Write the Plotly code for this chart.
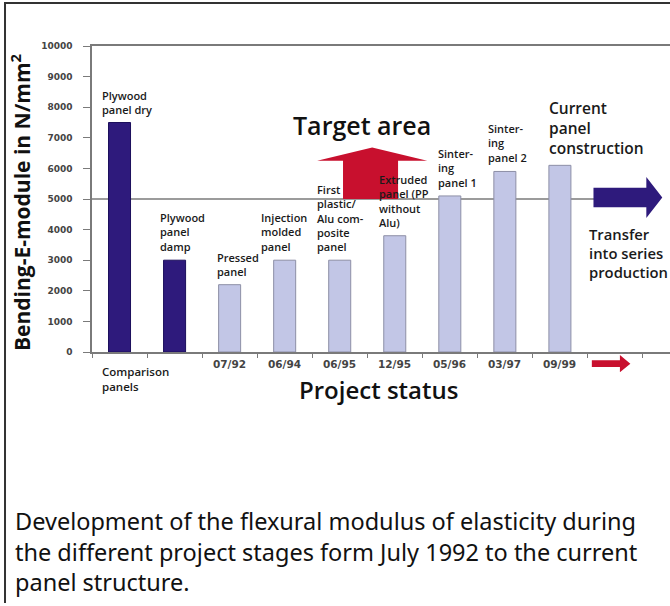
import plotly.graph_objects as go

# ---------------- data ----------------
categories = ["Plywood panel dry", "Plywood panel damp", "Pressed panel",
              "Injection molded panel", "First plastic/Alu composite panel",
              "Extruded panel (PP without Alu)", "Sintering panel 1",
              "Sintering panel 2", "Current panel construction"]
bar_labels = ["Plywood<br>panel dry", "Plywood<br>panel<br>damp", "Pressed<br>panel",
              "Injection<br>molded<br>panel", "First<br>plastic/<br>Alu com-<br>posite<br>panel",
              "Extruded<br>panel (PP<br>without<br>Alu)", "Sinter-<br>ing<br>panel 1",
              "Sinter-<br>ing<br>panel 2", "Current<br>panel<br>construction"]
values = [7500, 3000, 2200, 3000, 3000, 3800, 5100, 5900, 6100]
is_comparison = [True, True, False, False, False, False, False, False, False]
date_labels = ["", "", "07/92", "06/94", "06/95", "12/95", "05/96", "03/97", "09/99"]
y_ticks = [0, 1000, 2000, 3000, 4000, 5000, 6000, 7000, 8000, 9000, 10000]
target_value = 5000

# ---------------- style ----------------
DARK = "#2e1a7c"
LIGHT = "#c2c6e6"
RED = "#c8102e"
AXIS = "#7a7a7a"
FONT = "Open Sans"
label_dx = [-0.35, -0.30, -0.26, -0.46, -0.45, -0.32, -0.26, -0.34, -0.23]
label_size = [11, 11, 11, 11, 11, 11, 11, 11, 15.5]

x_idx = list(range(len(values)))
XR = [-0.5, 10.0]

fig = go.Figure()
fig.add_trace(go.Bar(
    x=x_idx, y=values, width=0.4,
    marker=dict(color=[DARK if c else LIGHT for c in is_comparison],
                line=dict(color=["#1c0f5c" if c else "#8d8fa6" for c in is_comparison], width=1)),
    hovertext=categories, showlegend=False,
))

shapes = []
# 5000 line
shapes.append(dict(type="line", xref="x", yref="y", x0=-0.5, x1=9.6, y0=target_value, y1=target_value,
                   line=dict(color=AXIS, width=1.5), layer="below"))
# red target arrow (up)
shapes.append(dict(type="path", xref="x", yref="y", layer="above",
                   path=f"M 4.06 {target_value} L 4.06 6250 L 3.59 6250 L 4.59 6680 L 5.59 6250 "
                        f"L 5.06 6250 L 5.06 {target_value} Z",
                   fillcolor=RED, line=dict(width=0)))
# blue transfer arrow (right)
shapes.append(dict(type="path", xref="x", yref="y", layer="above",
                   path="M 8.61 4730 L 9.57 4730 L 9.57 4380 L 9.86 5050 L 9.57 5720 L 9.57 5370 L 8.61 5370 Z",
                   fillcolor=DARK, line=dict(width=0)))

def px_x(xd):
    return (xd - XR[0]) / (XR[1] - XR[0])

# small red arrow under the axis
ya, yb, yh0, yh1, ym = -0.027, -0.049, -0.010, -0.066, -0.038
shapes.append(dict(type="path", xref="paper", yref="paper",
                   path=f"M {px_x(8.58)} {ya} L {px_x(9.09)} {ya} L {px_x(9.09)} {yh0} L {px_x(9.28)} {ym} "
                        f"L {px_x(9.09)} {yh1} L {px_x(9.09)} {yb} L {px_x(8.58)} {yb} Z",
                   fillcolor=RED, line=dict(width=0)))
# outer frame (left and top)
shapes.append(dict(type="path", xref="paper", yref="paper",
                   path="M -0.1505 -0.82 L -0.1505 1.1405 L 1.05 1.1405",
                   line=dict(color="#333333", width=2)))

ann = []
for i, (lab, v) in enumerate(zip(bar_labels, values)):
    ann.append(dict(x=i + label_dx[i], y=v, xref="x", yref="y", text=lab, showarrow=False,
                    xanchor="left", yanchor="bottom", align="left", yshift=4,
                    font=dict(family=FONT, size=label_size[i], color="#1a1a1a", weight=600)))
for i, d in enumerate(date_labels):
    if d:
        ann.append(dict(x=i, y=-0.040, xref="x", yref="paper", text=d, showarrow=False,
                        xanchor="center", yanchor="middle",
                        font=dict(family="DejaVu Sans", size=10.5, color="#444444", weight="bold")))
ann.append(dict(x=0 - 0.35, y=-0.033, xref="x", yref="paper", text="Comparison<br>panels",
                showarrow=False, xanchor="left", yanchor="top", align="left",
                font=dict(family=FONT, size=11.5, color="#1a1a1a", weight=600)))
ann.append(dict(x=4.40, y=7420, xref="x", yref="y", text="Target area", showarrow=False,
                xanchor="center", yanchor="middle",
                font=dict(family=FONT, size=25, color="#111111", weight=600)))
ann.append(dict(x=8.49, y=4250, xref="x", yref="y", text="Transfer<br>into series<br>production",
                showarrow=False, xanchor="left", yanchor="top", align="left",
                font=dict(family=FONT, size=14.8, color="#1a1a1a", weight=600)))
ann.append(dict(x=0.4965, y=-0.122, xref="paper", yref="paper", text="Project status",
                showarrow=False, xanchor="center", yanchor="middle",
                font=dict(family=FONT, size=24, color="#111111", weight=600)))
ann.append(dict(x=-0.1246, y=0.49, xref="paper", yref="paper", text="Bending-E-module in N/mm<sup>2</sup>",
                showarrow=False, textangle=-90, xanchor="center", yanchor="middle",
                font=dict(family=FONT, size=21, color="#111111", weight=700)))
ann.append(dict(x=-0.136, y=-0.494, xref="paper", yref="paper",
                text="Development of the flexural modulus of elasticity during<br>"
                     "the different project stages form July 1992 to the current<br>"
                     "panel structure.",
                showarrow=False, xanchor="left", yanchor="top", align="left",
                font=dict(family="Noto Sans", size=23.5, color="#111111")))

fig.update_layout(
    width=670, height=606,
    margin=dict(l=92, r=0, t=46, b=254, pad=0),
    paper_bgcolor="white", plot_bgcolor="white",
    shapes=shapes, annotations=ann, showlegend=False,
    xaxis=dict(range=XR, tickvals=[k - 0.5 for k in range(11)], showticklabels=False,
               ticks="outside", ticklen=4, tickcolor=AXIS, showline=True, linecolor=AXIS,
               linewidth=1.5, mirror=True, showgrid=False, zeroline=False, fixedrange=True),
    yaxis=dict(range=[0, 10000], tickvals=y_ticks, tickformat="d", ticks="outside", ticklen=7,
               tickcolor=AXIS, showline=True, linecolor=AXIS, linewidth=1.5, showgrid=False,
               zeroline=False, ticklabelstandoff=9,
               tickfont=dict(family="DejaVu Sans", size=9, color="#444444", weight="bold")),
)

fig.write_html("out.html", config={"displayModeBar": False},
               post_script="document.body.style.margin='0';document.body.style.overflow='hidden';")
